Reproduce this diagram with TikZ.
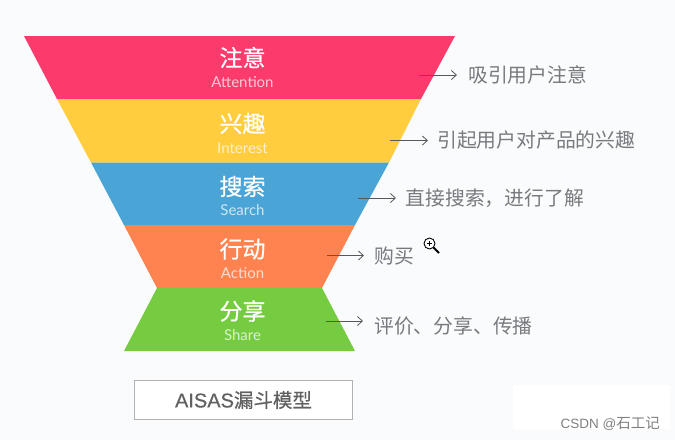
\documentclass[tikz,border=0pt]{standalone}
\usepackage{fontspec}
\setmainfont{Lato}
\newfontfamily\cjk{Noto Sans CJK SC}
\newfontfamily\cjkb[FakeBold=0.6]{Noto Sans CJK SC}
\newfontfamily\latb[FakeBold=0.4]{Liberation Sans}
\newfontfamily\latw{Liberation Sans}
\usetikzlibrary{arrows.meta}
\definecolor{bgc}{HTML}{FAFBFD}
\definecolor{cred}{HTML}{FC3A6C}
\definecolor{cyel}{HTML}{FFCD3E}
\definecolor{cblu}{HTML}{4AA5D6}
\definecolor{cora}{HTML}{FF8350}
\definecolor{cgrn}{HTML}{76CC41}
\definecolor{labc}{HTML}{777A7E}
\definecolor{arrc}{HTML}{55585C}
\tikzset{
  titlet/.style={text=white,font=\cjkb\fontsize{23}{23}\selectfont,inner sep=0pt,anchor=center},
  subt/.style={text=white,text opacity=.72,font=\fontsize{15}{15}\selectfont,inner sep=0pt,anchor=center},
  labt/.style={text=labc,font=\cjk\fontsize{19.8}{20}\selectfont,inner sep=0pt,anchor=west},
  pointer/.style={draw=arrc,line width=.8pt,-{Straight Barb[length=5pt,width=9pt,line width=.8pt]}},
}
\begin{document}
\begin{tikzpicture}[x=1pt,y=-1pt]
\useasboundingbox (0,0) rectangle (675,440);
\fill[bgc] (0,0) rectangle (675,440);
\fill[white] (513,385) rectangle (670,429);
% funnel
\fill[cred] (24,36) -- (455,36) -- (421,99) -- (57,99) -- cycle;
\fill[cyel] (57,99) -- (421,99) -- (389,162.5) -- (91,162.5) -- cycle;
\fill[cblu] (91,162.5) -- (389,162.5) -- (355,225) -- (124,225) -- cycle;
\fill[cora] (124,225) -- (355,225) -- (322,288) -- (157,288) -- cycle;
\fill[cgrn] (157,288) -- (322,288) -- (355,351) -- (124,351) -- cycle;
% titles
\node[titlet] (t1) at (242.5,57.5) {注意};
\node[subt] (s1) at (242.5,82.5) {Attention};
\node[titlet] (t2) at (242.5,123.5) {兴趣};
\node[subt] (s2) at (242.5,148) {Interest};
\node[titlet] (t3) at (242.5,186.5) {搜索};
\node[subt] (s3) at (242.5,210) {Search};
\node[titlet] (t4) at (242.5,249) {行动};
\node[subt] (s4) at (242.5,273) {Action};
\node[titlet] (t5) at (242.5,311) {分享};
\node[subt] (s5) at (242.5,335) {Share};
% labels
\node[labt] (l1) at (468,75) {吸引用户注意};
\node[labt] (l2) at (437,140.5) {引起用户对产品的兴趣};
\node[labt] (l3) at (405.5,198) {直接搜索，进行了解};
\node[labt] (l4) at (374,255.5) {购买};
\node[labt] (l5) at (374,326) {评价、分享、传播};
% connector ends
\coordinate (a1) at (419,75);
\coordinate (a2) at (390,140.5);
\coordinate (a3) at (358,198);
\coordinate (a4) at (327,255.5);
\coordinate (a5) at (326,321);
\coordinate (b1) at (457,75);
\coordinate (b2) at (428,140.5);
\coordinate (b3) at (396,198);
\coordinate (b4) at (364,255.5);
\coordinate (b5) at (363,321);
\draw[pointer] (a1) -- (b1);
\draw[pointer] (a2) -- (b2);
\draw[pointer] (a3) -- (b3);
\draw[pointer] (a4) -- (b4);
\draw[pointer] (a5) -- (b5);
% model box
\node[draw=black!30,line width=.8pt,fill=white,minimum width=218pt,minimum height=39pt,inner sep=0pt,text=black!62,font=\cjkb\fontsize{19.5}{20}\selectfont] (box) at (243.5,400) {{\latb\fontsize{20}{20}\selectfont AISAS}漏斗模型};
% cursor
\draw[black,line width=.9pt,fill=white] (429.5,243.5) circle (5.5);
\draw[black,line width=.9pt] (427,243.5) -- (432,243.5) (429.5,241) -- (429.5,246);
\draw[black,line width=2pt] (433.5,247.5) -- (439,253);
% watermark
\node[inner sep=0pt,anchor=east,text=black!50,font=\latw\fontsize{13.5}{14}\selectfont] (wm) at (660,423.5) {CSDN @{\cjk\fontsize{14.5}{15}\selectfont 石工记}};
\end{tikzpicture}
\end{document}
